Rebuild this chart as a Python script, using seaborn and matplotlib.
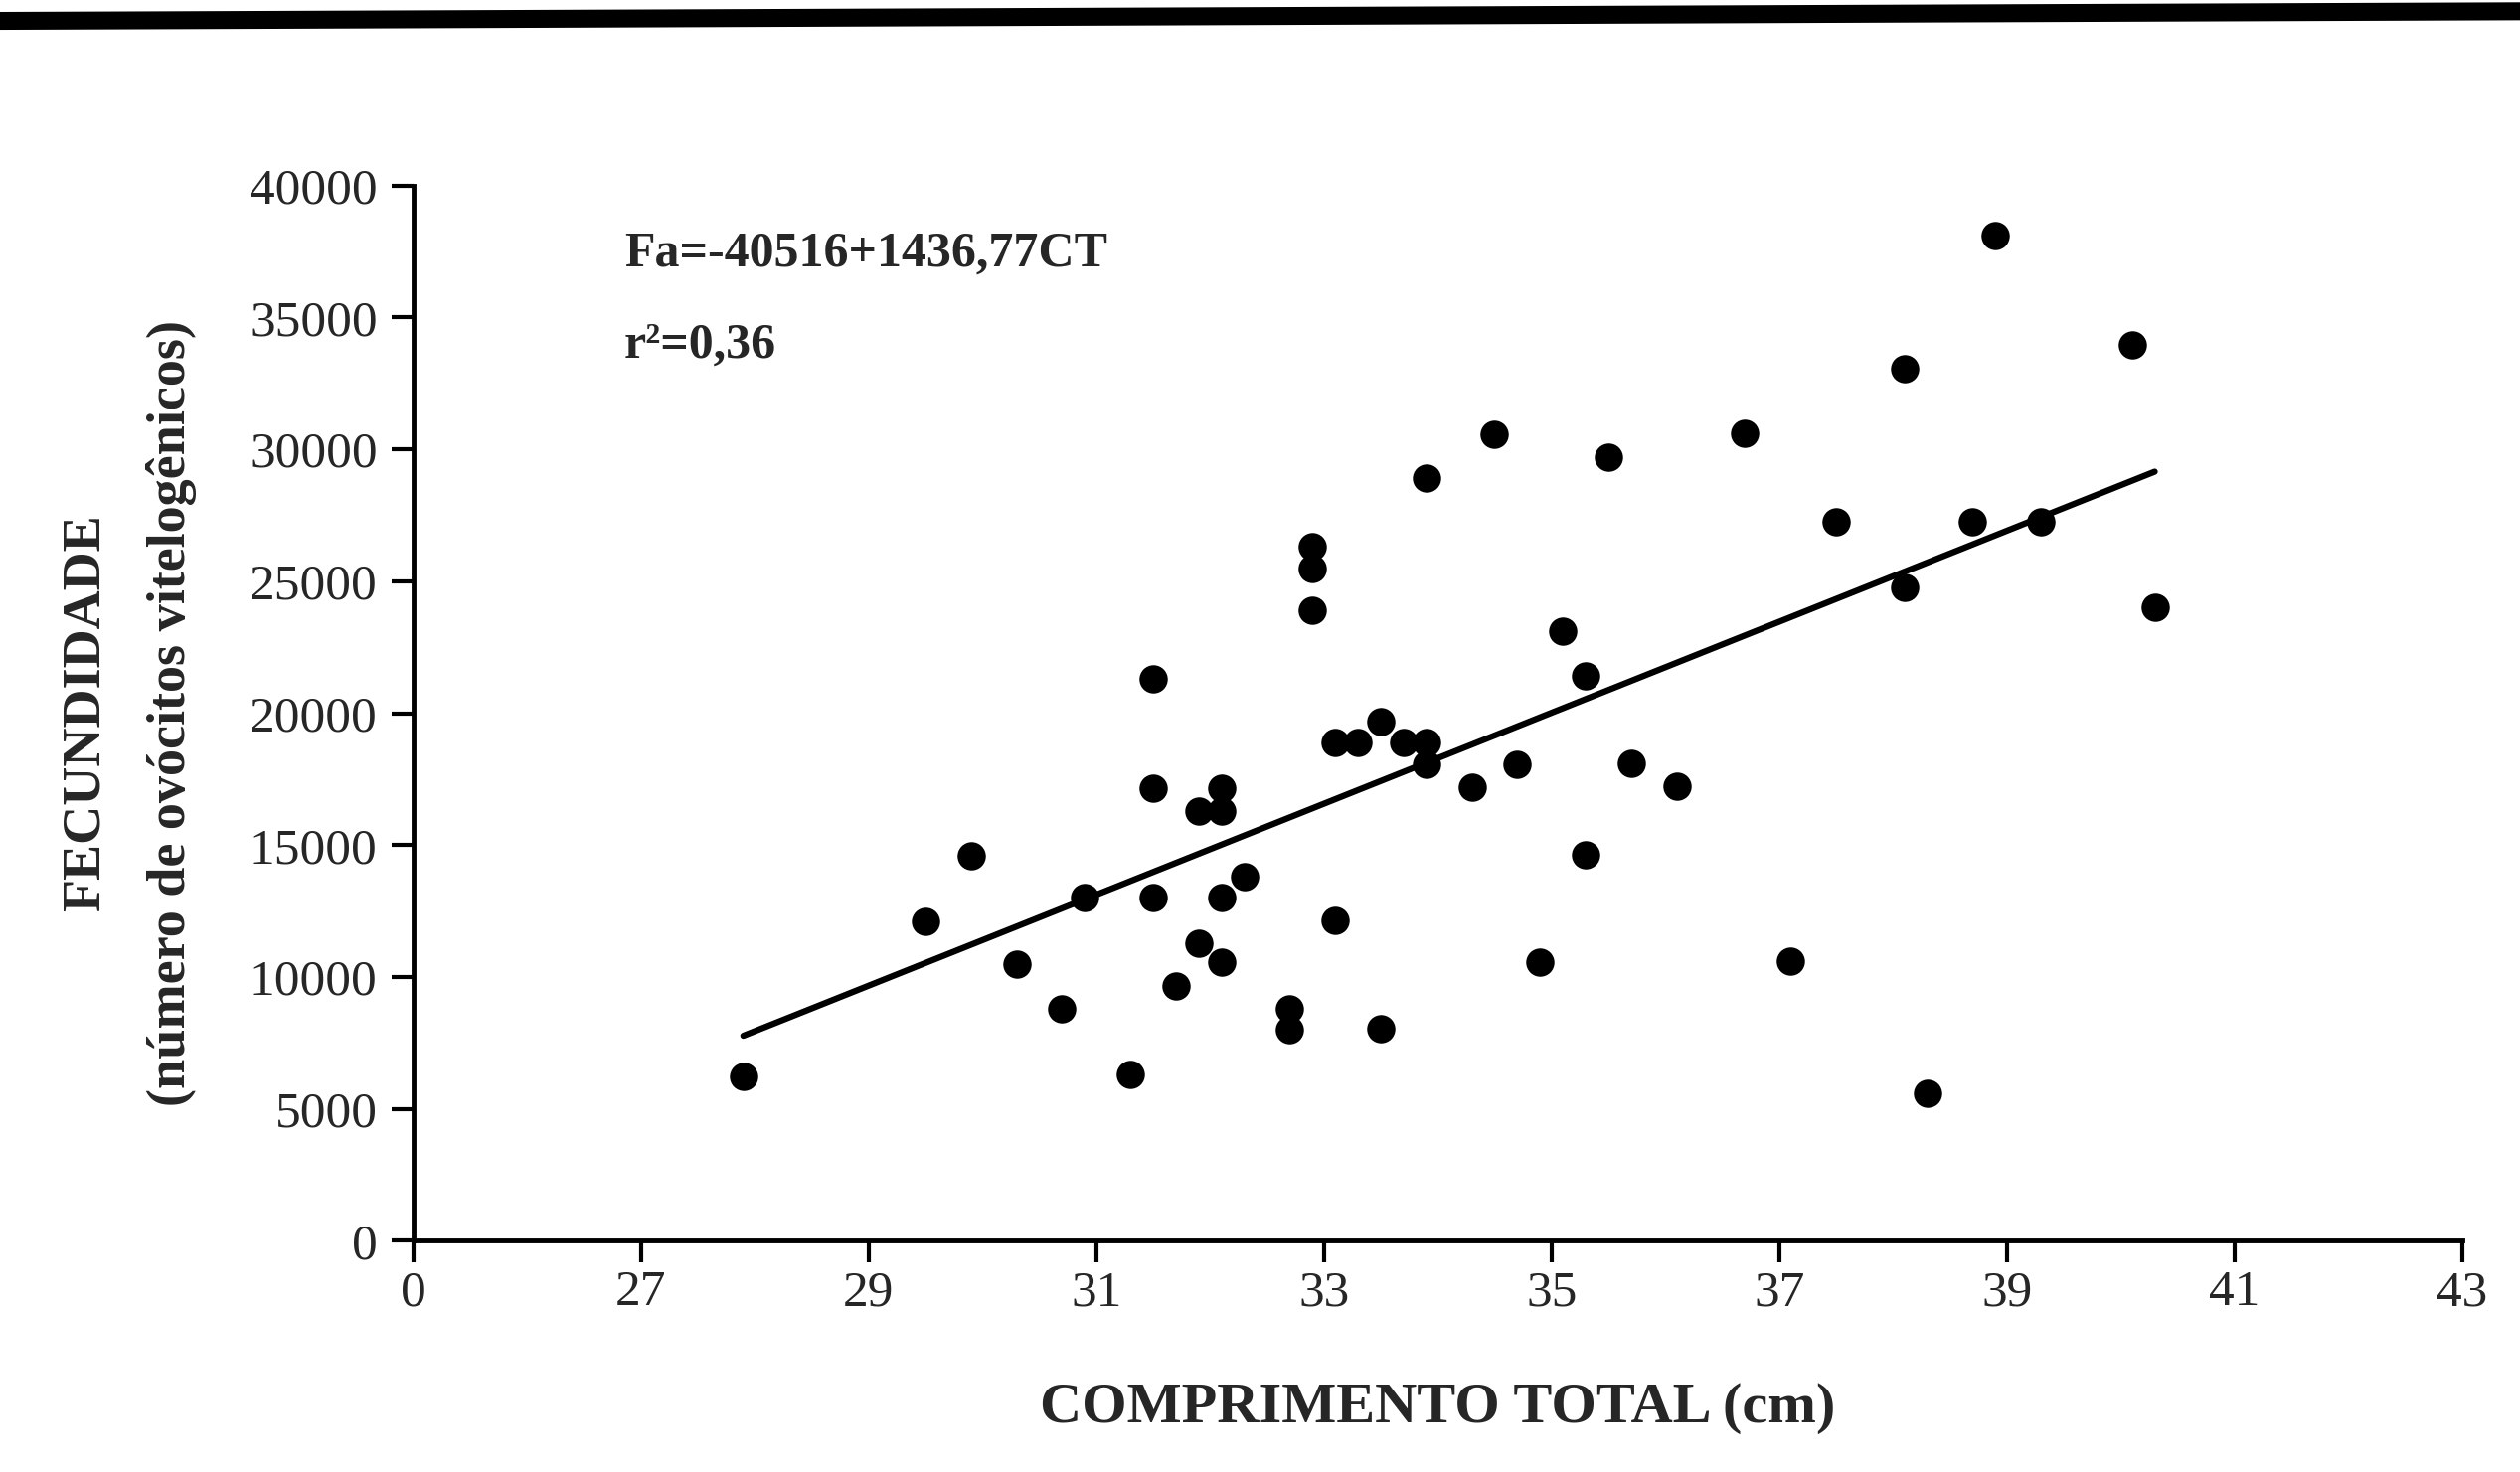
import numpy as np
import pandas as pd
import matplotlib.pyplot as plt
import seaborn as sns

# comprimento total (cm) and fecundidade
comprimento = [27.9, 29.5, 29.9, 30.3, 30.7, 30.9, 31.3, 31.5, 31.5, 31.5,
               31.7, 31.9, 31.9, 32.1, 32.1, 32.1, 32.1, 32.3, 32.7, 32.7,
               32.9, 32.9, 32.9, 33.1, 33.1, 33.3, 33.5, 33.5, 33.7, 33.9,
               33.9, 33.9, 34.3, 34.5, 34.7, 34.9, 35.1, 35.3, 35.3, 35.5,
               35.7, 36.1, 36.7, 37.1, 37.5, 38.1, 38.1, 38.3, 38.7, 38.9,
               39.3, 40.1, 40.3]
fecundidade = [6250, 12100, 14600, 10500, 8800, 13000, 6300, 21300, 17150, 13000,
               9650, 16300, 11300, 17150, 16300, 13000, 10550, 13800, 8800, 8000,
               26300, 25500, 23900, 18900, 12150, 18900, 19700, 8050, 18900, 18900,
               18050, 28900, 17200, 30550, 18050, 10550, 23100, 21400, 14650, 29700,
               18100, 17250, 30600, 10600, 27250, 33050, 24750, 5600, 27250, 38100,
               27250, 33950, 24000]

x_ticks = [25, 27, 29, 31, 33, 35, 37, 39, 41, 43]
x_tick_labels = ['0', '27', '29', '31', '33', '35', '37', '39', '41', '43']
y_ticks = [0, 5000, 10000, 15000, 20000, 25000, 30000, 35000, 40000]

df = pd.DataFrame({'ct': comprimento, 'fa': fecundidade})

sns.set_style('ticks')
plt.rcParams['font.family'] = ['Liberation Serif', 'DejaVu Serif']

fig = plt.figure(figsize=(25.35, 14.81), dpi=100)
ax = fig.add_axes([0.164, 0.157, 0.813, 0.717])

sns.regplot(data=df, x='ct', y='fa', ax=ax, ci=None, truncate=True,
            scatter_kws={'s': 420, 'color': 'black', 'alpha': 1, 'linewidths': 0},
            line_kws={'color': 'black', 'linewidth': 4.5})

ax.set_xlim(25, 43)
ax.set_ylim(0, 40000)
ax.set_xticks(x_ticks)
ax.set_xticklabels(x_tick_labels)
ax.set_yticks(y_ticks)
ax.tick_params(axis='both', labelsize=37, width=3, length=16, color='black')
ax.tick_params(axis='x', pad=5)
ax.tick_params(axis='y', pad=10)
for s in ['left', 'bottom']:
    ax.spines[s].set_linewidth(3.5)
    ax.spines[s].set_color('black')
sns.despine(ax=ax)

ax.set_xlabel('COMPRIMENTO TOTAL (cm)', fontsize=42, fontweight='bold', labelpad=48)
ax.set_ylabel('FECUNDIDADE\n(número de ovócitos vitelogênicos)', fontsize=39,
              fontweight='bold', labelpad=38, linespacing=1.9)

ax.text(0.103, 0.935, 'Fa=-40516+1436,77CT', transform=ax.transAxes,
        fontsize=36, fontweight='bold', va='center')
ax.text(0.103, 0.848, 'r²=0,36', transform=ax.transAxes,
        fontsize=36, fontweight='bold', va='center')

# dark border band across the top of the scanned page
fig.add_artist(plt.Line2D([0, 1], [1 - 13 / 916, 1 - 7 / 916], transform=fig.transFigure,
                          color='black', linewidth=13))

fig.savefig('out.png', dpi=100)
